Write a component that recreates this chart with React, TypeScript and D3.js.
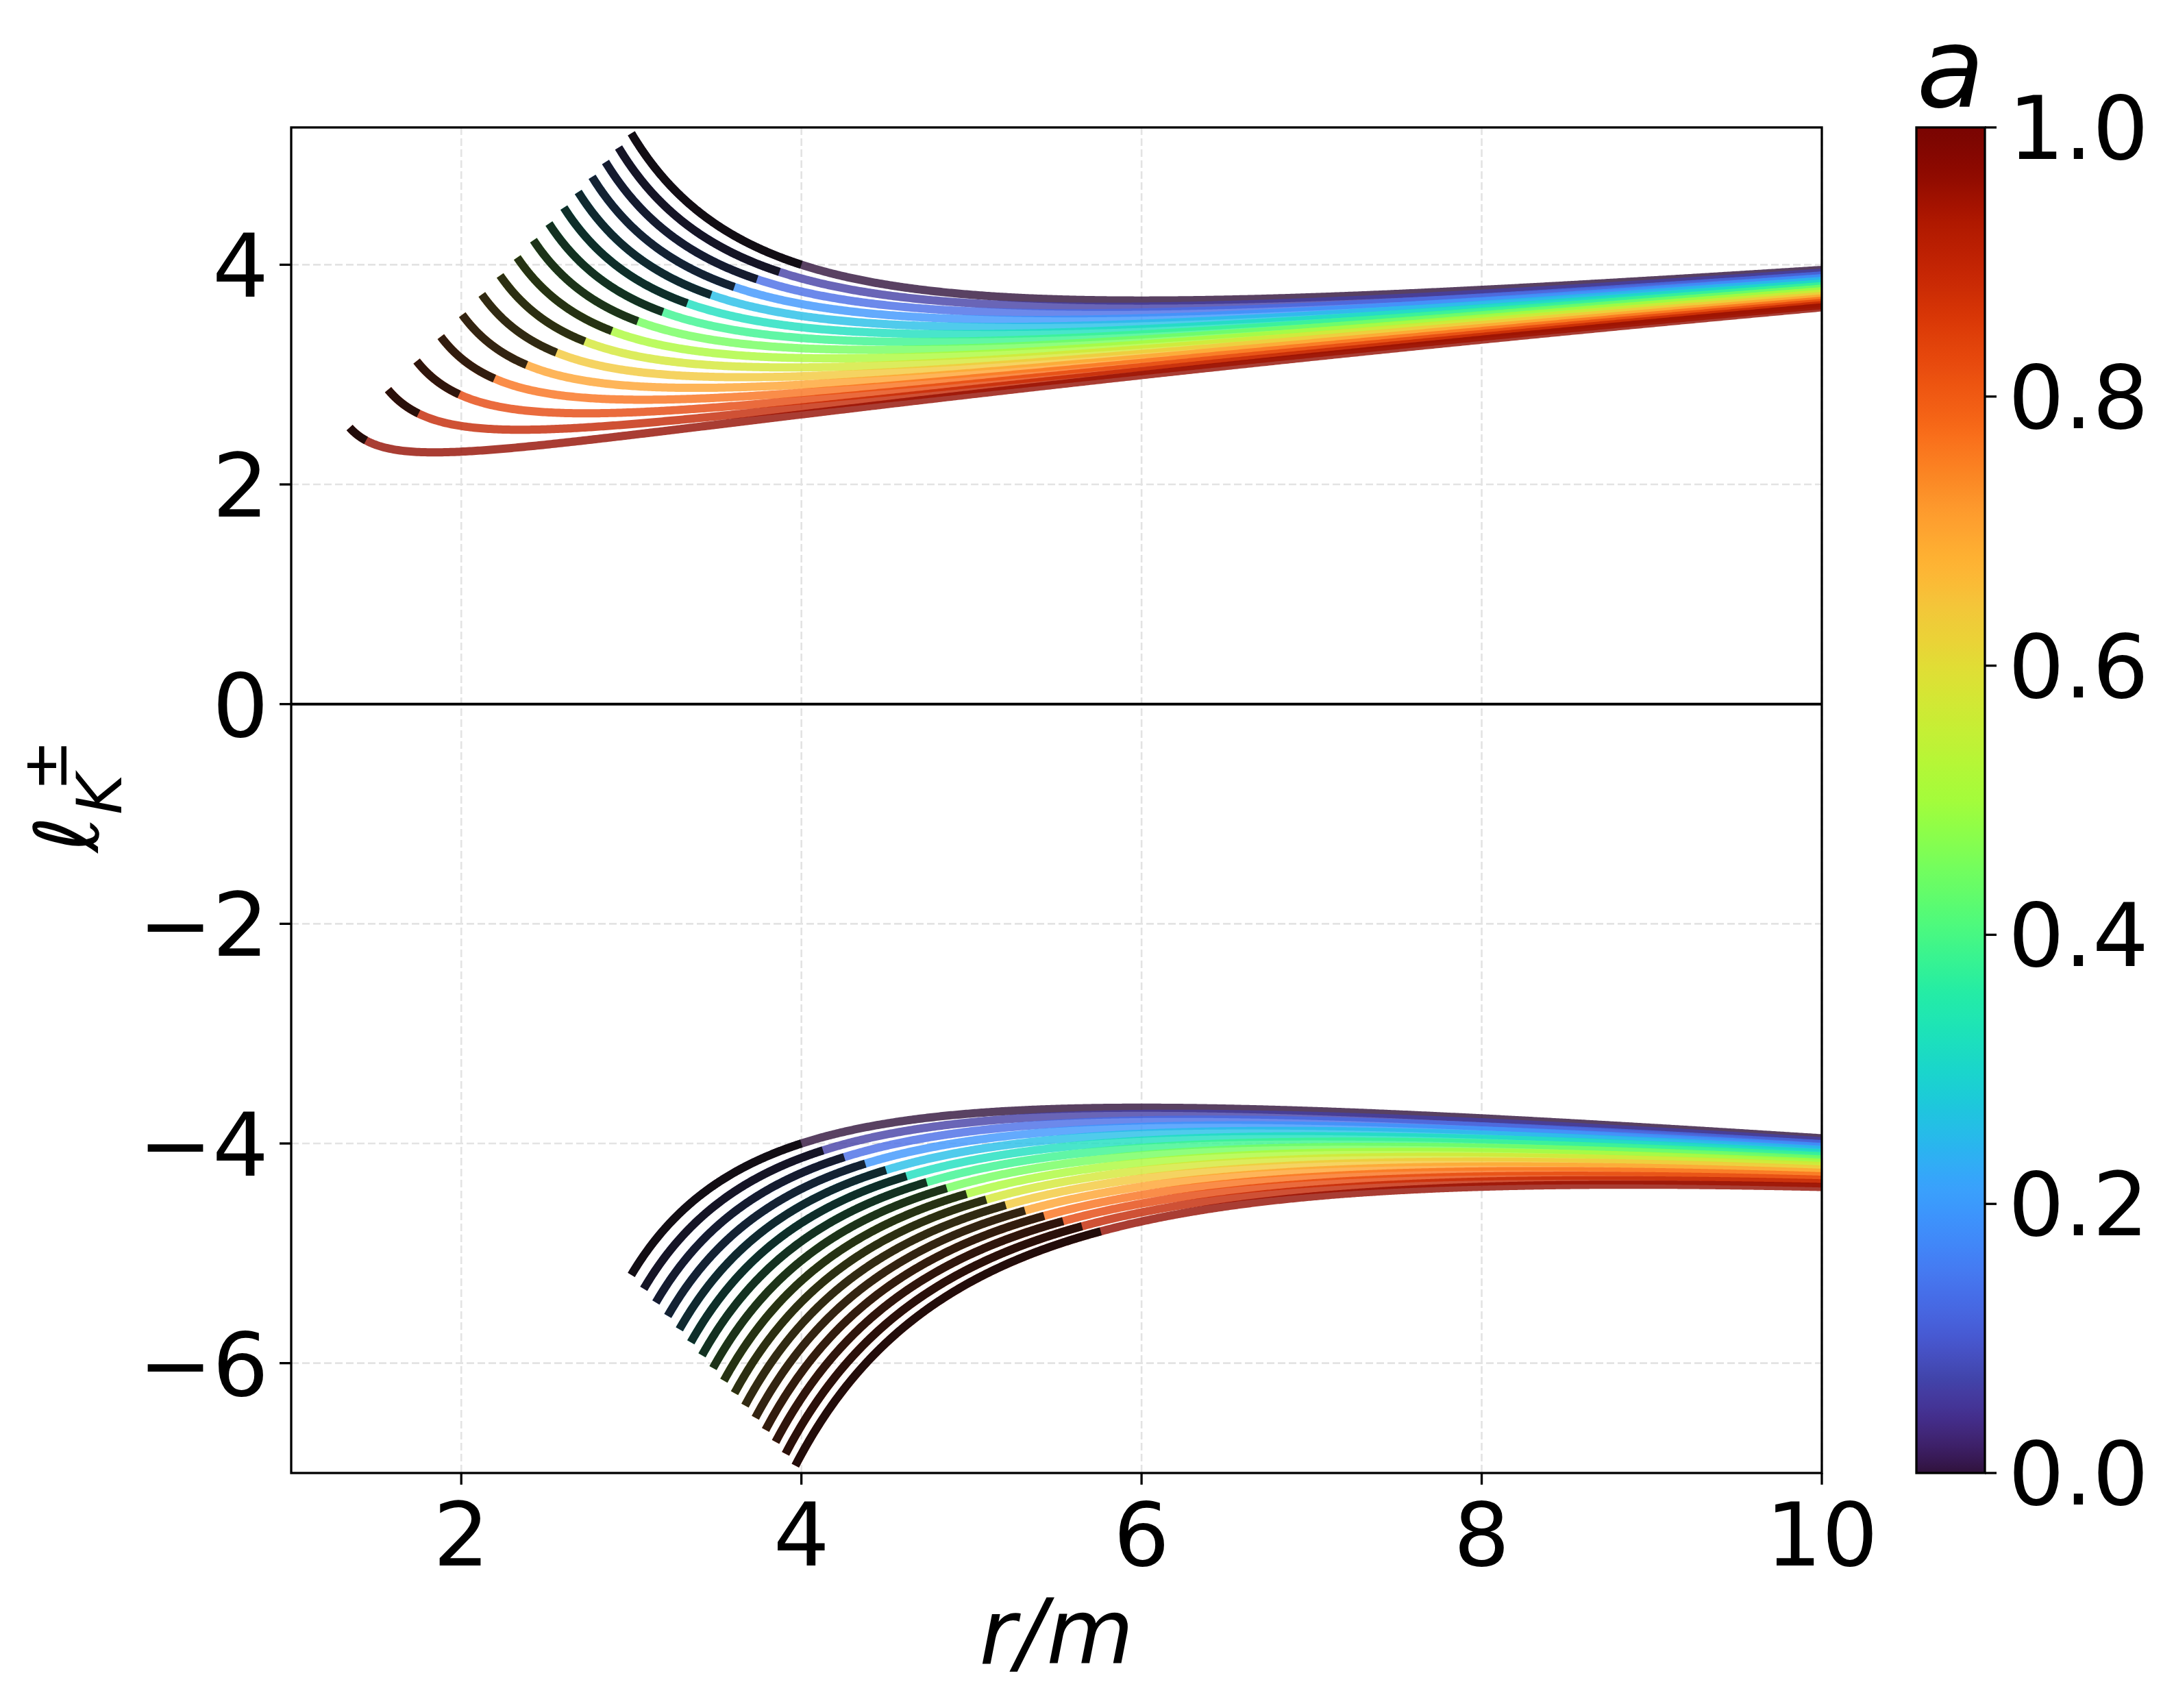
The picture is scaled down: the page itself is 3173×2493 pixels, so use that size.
import React from 'react';
import * as d3 from 'd3';

// ---------- data ----------
// spin parameters a of the 16 plotted curves (colour-coded)
const spins = [0, 0.064, 0.128, 0.192, 0.256, 0.32, 0.384, 0.448, 0.512, 0.576, 0.64, 0.704, 0.768, 0.832, 0.896, 0.96];
// branch sign: +1 co-rotating (ℓ_K^+), -1 counter-rotating (ℓ_K^-)
const branches = [1, -1];
const rOuter = 10;
const xDomain = [1, 10];
const yDomain = [-7.0, 5.25];
const xTicks = [2, 4, 6, 8, 10];
const yTicks = [-6, -4, -2, 0, 2, 4];
const cbTicks = [0, 0.2, 0.4, 0.6, 0.8, 1.0];
const xLabel = 'r/m';
const cbLabel = 'a';

// matplotlib "turbo" anchor colours (15 evenly spaced samples)
const turboAnchors = ['#30123b', '#4145ab', '#4675ed', '#39a2fc', '#1bcfd4', '#24eca6', '#61fc6c', '#a4fc3b', '#d1e834', '#f3c63a', '#fe9b2d', '#f36315', '#d93806', '#b11901', '#7a0402'];

// d3's turbo shape, pinned to the matplotlib anchors
function turbo(t: number): string {
  const n = turboAnchors.length - 1;
  const tt = Math.max(0, Math.min(1, t));
  const p = tt * n;
  const i = Math.min(Math.floor(p), n - 1);
  const f = p - i;
  const base = d3.rgb(d3.interpolateTurbo(tt));
  const a0 = d3.rgb(turboAnchors[i]);
  const a1 = d3.rgb(turboAnchors[i + 1]);
  const b0 = d3.rgb(d3.interpolateTurbo(i / n));
  const b1 = d3.rgb(d3.interpolateTurbo((i + 1) / n));
  const ch = (k: 'r' | 'g' | 'b') =>
    Math.max(0, Math.min(255, Math.round(base[k] + (a0[k] - b0[k]) * (1 - f) + (a1[k] - b1[k]) * f)));
  return d3.rgb(ch('r'), ch('g'), ch('b')).formatHex();
}

// Kerr circular geodesics (Bardeen et al.): the quantity the chart plots
const photonOrbit = (a: number, s: number) => 2 * (1 + Math.cos((2 / 3) * Math.acos(-s * a)));
const marginallyBound = (a: number, s: number) => 2 - s * a + 2 * Math.sqrt(1 - s * a);
const ellK = (r: number, a: number, s: number) => {
  const q = Math.sqrt(r);
  return (s * (r * r - 2 * s * a * q + a * a)) / (r * q - 2 * q + s * a);
};

const W = 3173;
const H = 2493;
const L = 425, R = 2659, T = 186, B = 2150;
const CBL = 2797, CBR = 2897;
const FONT = '"DejaVu Sans", Verdana, sans-serif';
const FS = 129;

function sampleCurve(a: number, s: number, r0: number, r1: number, n = 700) {
  const pts: [number, number][] = [];
  for (let i = 0; i <= n; i++) {
    const r = r0 + ((r1 - r0) * i) / n;
    pts.push([r, ellK(r, a, s)]);
  }
  return pts;
}

export default function App() {
  const x = d3.scaleLinear().domain(xDomain).range([L, R]);
  const y = d3.scaleLinear().domain(yDomain).range([B, T]);
  const cb = d3.scaleLinear().domain([0, 1]).range([B, T]);
  const line = d3.line<[number, number]>().x((d) => x(d[0])).y((d) => y(d[1]));

  const curves: { key: string; color: string; full: string; unstable: string }[] = [];
  spins.forEach((a, i) => {
    branches.forEach((s) => {
      const rph = photonOrbit(a, s);
      const rmb = marginallyBound(a, s);
      curves.push({
        key: `${i}_${s}`,
        color: turbo(a),
        full: line(sampleCurve(a, s, rph, rOuter)) || '',
        unstable: line(sampleCurve(a, s, rph, rmb, 200)) || '',
      });
    });
  });

  const gradStops = d3.range(0, 1.0001, 0.01);

  return (
    <svg width={W} height={H} style={{ position: 'absolute', left: 0, top: 0, background: '#fff' }} xmlns="http://www.w3.org/2000/svg">
      <defs>
        <clipPath id="plotclip">
          <rect x={L} y={T} width={R - L} height={B - T} />
        </clipPath>
        <linearGradient id="turbo" x1="0" y1="1" x2="0" y2="0">
          {gradStops.map((t) => (
            <stop key={t} offset={`${t * 100}%`} stopColor={turbo(t)} />
          ))}
        </linearGradient>
      </defs>
      <rect x={0} y={0} width={W} height={H} fill="#fff" />

      {/* grid */}
      <g stroke="#e3e3e3" strokeWidth={2.6} strokeDasharray="11,5">
        {xTicks.map((t) => (
          <line key={`gx${t}`} x1={x(t)} x2={x(t)} y1={T} y2={B} />
        ))}
        {yTicks.map((t) => (
          <line key={`gy${t}`} x1={L} x2={R} y1={y(t)} y2={y(t)} />
        ))}
      </g>

      {/* curves */}
      <g clipPath="url(#plotclip)" fill="none" strokeWidth={12} strokeLinecap="butt" strokeLinejoin="round">
        {curves.map((c) => (
          <g key={c.key}>
            <path d={c.full} stroke={c.color} strokeOpacity={0.8} />
            <path d={c.unstable} stroke="#000" strokeOpacity={0.8} />
          </g>
        ))}
      </g>

      {/* zero line */}
      <line x1={L} x2={R} y1={y(0)} y2={y(0)} stroke="#000" strokeWidth={4} />

      {/* spines */}
      <rect x={L} y={T} width={R - L} height={B - T} fill="none" stroke="#000" strokeWidth={3.3} />

      {/* x ticks */}
      {xTicks.map((t) => (
        <g key={`xt${t}`}>
          <line x1={x(t)} x2={x(t)} y1={B} y2={B + 17} stroke="#000" strokeWidth={3.3} />
          <text x={x(t)} y={2285} textAnchor="middle" fontFamily={FONT} fontSize={FS} fill="#000">
            {t}
          </text>
        </g>
      ))}
      {/* y ticks */}
      {yTicks.map((t) => (
        <g key={`yt${t}`}>
          <line x1={L - 17} x2={L} y1={y(t)} y2={y(t)} stroke="#000" strokeWidth={3.3} />
          <text x={392} y={y(t) + 47} textAnchor="end" fontFamily={FONT} fontSize={FS} fill="#000">
            {t < 0 ? `\u2212${Math.abs(t)}` : `${t}`}
          </text>
        </g>
      ))}

      {/* axis labels */}
      <text x={(L + R) / 2} y={2428} textAnchor="middle" fontFamily={FONT} fontSize={131} fontStyle="italic" fill="#000">
        {xLabel}
      </text>
      <g transform="rotate(-90)" fontFamily={FONT} fill="#000">
        <text x={-1244} y={143} fontSize={129} fontStyle="italic">ℓ</text>
        <text x={-1189} y={177} fontSize={90} fontStyle="italic">K</text>
        <text x={-1155} y={97} fontSize={90}>±</text>
      </g>

      {/* colorbar */}
      <rect x={CBL} y={T} width={CBR - CBL} height={B - T} fill="url(#turbo)" stroke="#000" strokeWidth={3.3} />
      {cbTicks.map((t) => (
        <g key={`cb${t}`}>
          <line x1={CBR} x2={CBR + 17} y1={cb(t)} y2={cb(t)} stroke="#000" strokeWidth={3.3} />
          <text x={2931} y={cb(t) + 46} textAnchor="start" fontFamily={FONT} fontSize={FS} fill="#000">
            {t.toFixed(1)}
          </text>
        </g>
      ))}
      <text x={(CBL + CBR) / 2} y={156} textAnchor="middle" fontFamily={FONT} fontSize={162} fontStyle="italic" fill="#000">
        {cbLabel}
      </text>
    </svg>
  );
}
